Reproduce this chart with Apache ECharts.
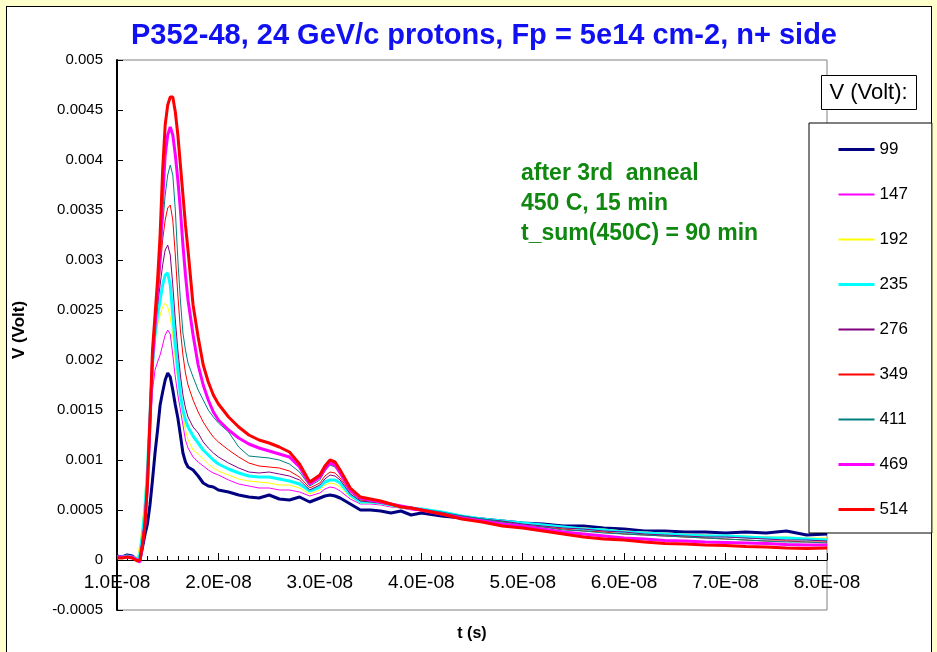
<!DOCTYPE html>
<html>
<head>
<meta charset="utf-8">
<script src="https://cdn.jsdelivr.net/npm/echarts@6/dist/echarts.min.js"></script>
<style>
  html, body { margin: 0; padding: 0; background: #FFFFCC; }
  #frame { position: absolute; left: 6px; top: 6px; width: 926px; height: 660px; background: #fff; border: 1px solid #000; box-sizing: border-box; }
  #chart { position: absolute; left: 0; top: 0; width: 937px; height: 652px; }
</style>
</head>
<body>
<div id="frame"></div>
<div id="chart"></div>
<script>
// time in ns (axis labels shown in seconds)
const t_ns = [10,10.5,11,11.5,12,12.25,12.5,12.75,13,13.25,13.5,13.75,14,14.25,14.5,14.75,15,15.25,15.5,15.75,16,16.25,16.5,16.75,17,17.5,18,18.5,19,19.5,20,21,22,23,24,25,26,27,28,29,30,30.5,31,31.5,32,33,34,35,36,37,38,39,40,42,44,46,48,50,52,54,56,58,60,62,64,66,68,70,72,74,76,78,80];

// signal in volts
const v99  = [0.4e-4,0.3e-4,0.5e-4,0.4e-4,0.0e-4,-0.1e-4,1.2e-4,2.5e-4,3.6e-4,5.5e-4,8.0e-4,10.7e-4,13.0e-4,15.5e-4,16.8e-4,18.0e-4,18.7e-4,18.3e-4,17.0e-4,15.5e-4,14.2e-4,12.5e-4,10.7e-4,9.8e-4,9.3e-4,9.0e-4,8.4e-4,7.7e-4,7.4e-4,7.3e-4,7.0e-4,6.8e-4,6.5e-4,6.3e-4,6.2e-4,6.5e-4,6.1e-4,6.0e-4,6.3e-4,5.8e-4,6.2e-4,6.4e-4,6.5e-4,6.4e-4,6.2e-4,5.6e-4,5.0e-4,5.0e-4,4.9e-4,4.7e-4,4.9e-4,4.5e-4,4.7e-4,4.4e-4,4.2e-4,4.1e-4,3.9e-4,3.7e-4,3.6e-4,3.4e-4,3.4e-4,3.2e-4,3.1e-4,2.9e-4,2.9e-4,2.8e-4,2.8e-4,2.7e-4,2.8e-4,2.7e-4,2.9e-4,2.5e-4,2.6e-4];
const v147 = [0.3e-4,0.3e-4,0.4e-4,0.3e-4,-0.1e-4,-0.3e-4,1.5e-4,4.0e-4,8.0e-4,13.0e-4,17.0e-4,19.0e-4,19.8e-4,20.5e-4,21.5e-4,22.5e-4,23.0e-4,22.6e-4,20.5e-4,18.3e-4,16.5e-4,15.0e-4,13.5e-4,12.0e-4,11.2e-4,10.3e-4,9.8e-4,9.4e-4,9.0e-4,8.7e-4,8.5e-4,8.0e-4,7.6e-4,7.4e-4,7.2e-4,7.2e-4,7.0e-4,7.0e-4,6.8e-4,6.4e-4,6.7e-4,7.1e-4,7.3e-4,7.2e-4,6.9e-4,6.1e-4,5.6e-4,5.6e-4,5.5e-4,5.3e-4,5.2e-4,5.0e-4,4.9e-4,4.6e-4,4.3e-4,4.1e-4,3.9e-4,3.7e-4,3.5e-4,3.3e-4,3.2e-4,3.0e-4,2.9e-4,2.8e-4,2.7e-4,2.6e-4,2.5e-4,2.4e-4,2.3e-4,2.3e-4,2.2e-4,2.1e-4,2.1e-4];
const v192 = [0.3e-4,0.3e-4,0.3e-4,0.3e-4,0.3e-4,1.5e-4,3.5e-4,6.5e-4,10.5e-4,15.0e-4,19.5e-4,22.0e-4,23.5e-4,24.5e-4,25.3e-4,25.7e-4,25.3e-4,24.3e-4,22.5e-4,20.0e-4,18.0e-4,16.3e-4,14.5e-4,13.0e-4,12.0e-4,11.0e-4,10.6e-4,10.1e-4,9.6e-4,9.2e-4,8.9e-4,8.5e-4,8.1e-4,7.9e-4,7.8e-4,7.7e-4,7.5e-4,7.5e-4,7.2e-4,6.6e-4,7.0e-4,7.5e-4,7.7e-4,7.6e-4,7.3e-4,6.3e-4,5.7e-4,5.7e-4,5.6e-4,5.4e-4,5.2e-4,5.1e-4,5.0e-4,4.7e-4,4.4e-4,4.1e-4,3.9e-4,3.7e-4,3.5e-4,3.3e-4,3.2e-4,3.1e-4,2.9e-4,2.8e-4,2.7e-4,2.6e-4,2.5e-4,2.4e-4,2.4e-4,2.3e-4,2.3e-4,2.2e-4,2.2e-4];
const v235 = [0.3e-4,0.3e-4,0.4e-4,0.3e-4,0.1e-4,0.5e-4,2.5e-4,5.0e-4,9.0e-4,14.5e-4,19.5e-4,22.5e-4,24.5e-4,26.0e-4,27.5e-4,28.5e-4,28.7e-4,27.5e-4,24.5e-4,21.5e-4,19.0e-4,16.5e-4,15.0e-4,14.0e-4,13.3e-4,12.4e-4,11.7e-4,11.0e-4,10.5e-4,10.0e-4,9.6e-4,9.1e-4,8.7e-4,8.4e-4,8.3e-4,8.3e-4,8.1e-4,7.9e-4,7.6e-4,6.9e-4,7.3e-4,7.8e-4,8.0e-4,8.0e-4,7.7e-4,6.5e-4,5.8e-4,5.8e-4,5.7e-4,5.5e-4,5.3e-4,5.2e-4,5.1e-4,4.8e-4,4.4e-4,4.1e-4,3.9e-4,3.7e-4,3.5e-4,3.3e-4,3.1e-4,3.0e-4,2.8e-4,2.7e-4,2.6e-4,2.5e-4,2.4e-4,2.4e-4,2.3e-4,2.2e-4,2.2e-4,2.1e-4,2.0e-4];
const v276 = [0.3e-4,0.3e-4,0.3e-4,0.3e-4,0.0e-4,0.0e-4,1.7e-4,4.0e-4,8.0e-4,14.0e-4,19.5e-4,23.0e-4,25.5e-4,27.5e-4,29.5e-4,31.0e-4,31.5e-4,30.5e-4,27.5e-4,24.0e-4,21.0e-4,18.5e-4,16.5e-4,15.2e-4,14.3e-4,13.3e-4,12.7e-4,11.8e-4,11.2e-4,10.7e-4,10.3e-4,9.7e-4,9.2e-4,8.8e-4,8.7e-4,8.8e-4,8.6e-4,8.4e-4,8.0e-4,7.0e-4,7.5e-4,8.1e-4,8.5e-4,8.4e-4,8.0e-4,6.6e-4,5.9e-4,5.8e-4,5.7e-4,5.5e-4,5.3e-4,5.2e-4,5.0e-4,4.7e-4,4.4e-4,4.1e-4,3.9e-4,3.6e-4,3.4e-4,3.2e-4,3.1e-4,2.9e-4,2.8e-4,2.6e-4,2.5e-4,2.4e-4,2.3e-4,2.3e-4,2.2e-4,2.1e-4,2.0e-4,2.0e-4,1.9e-4];
const v349 = [0.3e-4,0.3e-4,0.3e-4,0.3e-4,0.0e-4,0.0e-4,1.5e-4,3.5e-4,7.5e-4,13.5e-4,19.5e-4,23.0e-4,26.0e-4,29.0e-4,32.0e-4,34.0e-4,35.2e-4,35.5e-4,34.0e-4,30.5e-4,26.5e-4,23.0e-4,20.5e-4,18.7e-4,17.5e-4,16.0e-4,14.8e-4,13.8e-4,13.0e-4,12.3e-4,11.8e-4,11.0e-4,10.3e-4,9.7e-4,9.4e-4,9.3e-4,9.2e-4,8.9e-4,8.3e-4,7.2e-4,7.7e-4,8.4e-4,8.8e-4,8.7e-4,8.2e-4,6.8e-4,6.0e-4,5.9e-4,5.7e-4,5.5e-4,5.3e-4,5.2e-4,5.0e-4,4.7e-4,4.3e-4,4.0e-4,3.8e-4,3.5e-4,3.3e-4,3.1e-4,2.9e-4,2.8e-4,2.6e-4,2.5e-4,2.4e-4,2.3e-4,2.2e-4,2.1e-4,2.0e-4,1.9e-4,1.9e-4,1.8e-4,1.8e-4];
const v411 = [0.3e-4,0.3e-4,0.3e-4,0.3e-4,0.0e-4,0.0e-4,1.5e-4,3.5e-4,7.5e-4,13.5e-4,19.5e-4,23.0e-4,26.5e-4,29.5e-4,33.5e-4,36.5e-4,38.5e-4,39.5e-4,38.5e-4,35.0e-4,30.0e-4,26.0e-4,22.7e-4,21.0e-4,19.7e-4,18.3e-4,17.0e-4,16.0e-4,15.0e-4,14.3e-4,13.7e-4,12.8e-4,11.3e-4,10.4e-4,10.3e-4,10.2e-4,10.0e-4,9.6e-4,8.8e-4,7.4e-4,8.0e-4,8.9e-4,9.5e-4,9.3e-4,8.6e-4,7.0e-4,6.1e-4,6.0e-4,5.8e-4,5.6e-4,5.4e-4,5.3e-4,5.1e-4,4.8e-4,4.4e-4,4.1e-4,3.8e-4,3.5e-4,3.3e-4,3.0e-4,2.9e-4,2.7e-4,2.6e-4,2.5e-4,2.4e-4,2.3e-4,2.2e-4,2.1e-4,2.0e-4,1.9e-4,1.8e-4,1.8e-4,1.7e-4];
const v469 = [0.3e-4,0.3e-4,0.3e-4,0.3e-4,0.0e-4,-0.2e-4,1.5e-4,3.5e-4,7.5e-4,13.5e-4,20.0e-4,23.5e-4,27.0e-4,30.5e-4,36.0e-4,40.5e-4,42.5e-4,43.3e-4,42.5e-4,40.5e-4,38.0e-4,35.0e-4,31.5e-4,28.5e-4,26.0e-4,22.5e-4,19.5e-4,17.5e-4,16.0e-4,14.8e-4,14.0e-4,13.0e-4,12.2e-4,11.6e-4,11.2e-4,10.9e-4,10.6e-4,10.3e-4,9.3e-4,7.6e-4,8.3e-4,9.1e-4,9.7e-4,9.5e-4,8.7e-4,7.0e-4,6.2e-4,6.0e-4,5.8e-4,5.6e-4,5.4e-4,5.2e-4,5.0e-4,4.6e-4,4.2e-4,3.9e-4,3.6e-4,3.4e-4,3.1e-4,2.8e-4,2.6e-4,2.4e-4,2.2e-4,2.1e-4,1.95e-4,1.9e-4,1.8e-4,1.75e-4,1.7e-4,1.65e-4,1.55e-4,1.5e-4,1.5e-4];
const v514 = [0.2e-4,0.2e-4,0.3e-4,0.2e-4,-0.1e-4,0.0e-4,1.5e-4,3.5e-4,7.5e-4,14.0e-4,21.0e-4,24.5e-4,28.0e-4,32.5e-4,39.0e-4,43.5e-4,45.5e-4,46.3e-4,46.3e-4,44.8e-4,42.5e-4,39.5e-4,36.5e-4,33.5e-4,31.0e-4,25.5e-4,22.3e-4,19.5e-4,17.8e-4,16.5e-4,15.6e-4,14.3e-4,13.3e-4,12.5e-4,12.0e-4,11.7e-4,11.3e-4,10.8e-4,9.6e-4,7.8e-4,8.5e-4,9.4e-4,10.0e-4,9.8e-4,9.0e-4,7.2e-4,6.3e-4,6.1e-4,5.9e-4,5.6e-4,5.3e-4,5.2e-4,5.0e-4,4.6e-4,4.1e-4,3.8e-4,3.4e-4,3.2e-4,2.9e-4,2.6e-4,2.3e-4,2.1e-4,2.0e-4,1.8e-4,1.65e-4,1.6e-4,1.5e-4,1.45e-4,1.35e-4,1.3e-4,1.2e-4,1.15e-4,1.2e-4];

const seriesNames = ['99','147','192','235','276','349','411','469','514'];
const seriesValues = [v99, v147, v192, v235, v276, v349, v411, v469, v514];
const seriesColors = ['#000080','#FF00FF','#FFFF00','#00FFFF','#800080','#FF0000','#008080','#FF00FF','#FF0000'];
const seriesWidths = [3,1,1,3,1,1,1,3,3];

const xTickLabels = ['1.0E-08','2.0E-08','3.0E-08','4.0E-08','5.0E-08','6.0E-08','7.0E-08','8.0E-08'];

const FONT = "'Liberation Sans', Arial, sans-serif";

const chart = echarts.init(document.getElementById('chart'), null, { renderer: 'canvas' });

const series = seriesNames.map((name, i) => ({
  name: name,
  type: 'line',
  symbol: 'none',
  showSymbol: false,
  animation: false,
  color: seriesColors[i],
  itemStyle: { color: seriesColors[i], opacity: 0 },
  lineStyle: { color: seriesColors[i], width: seriesWidths[i], opacity: 1 },
  data: t_ns.map((t, k) => [t, seriesValues[i][k]]),
  z: 2 + i
}));

const legendData = seriesNames.map((name, i) => ({
  name: name,
  itemStyle: { opacity: 0 },
  lineStyle: { color: seriesColors[i], width: seriesWidths[i] > 1 ? 3 : 2, opacity: 1 }
}));

chart.setOption({
  backgroundColor: 'transparent',
  animation: false,
  textStyle: { fontFamily: FONT },
  grid: {
    left: 117, top: 60, width: 710, height: 550,
    show: true, backgroundColor: '#ffffff', borderColor: '#808080', borderWidth: 1
  },
  xAxis: {
    type: 'value', min: 10, max: 80, interval: 10,
    position: 'bottom', offset: -50,
    axisLine: { show: true, onZero: false, lineStyle: { color: '#000', width: 1 } },
    axisTick: { show: true, inside: true, length: 7, lineStyle: { color: '#000' } },
    minorTick: { show: true, splitNumber: 10, length: 4, lineStyle: { color: '#000' } },
    splitLine: { show: false },
    axisLabel: {
      margin: 13, color: '#000', fontSize: 19, fontFamily: FONT,
      formatter: v => xTickLabels[Math.round((v - 10) / 10)] || ''
    }
  },
  yAxis: {
    type: 'value', min: -0.0005, max: 0.005, interval: 0.0005,
    axisLine: { show: true, lineStyle: { color: '#000', width: 2 } },
    axisTick: { show: true, inside: true, length: 6, lineStyle: { color: '#000' } },
    splitLine: { show: false },
    axisLabel: {
      margin: 14, color: '#000', fontSize: 15, fontFamily: FONT,
      formatter: v => String(+v.toFixed(4))
    }
  },
  legend: {
    show: true, orient: 'vertical', left: 809, top: 123,
    data: legendData,
    itemWidth: 36, itemHeight: 14, itemGap: 28,
    padding: [18, 24, 15, 28],
    backgroundColor: '#ffffff', borderColor: '#000', borderWidth: 1,
    textStyle: { color: '#000', fontSize: 17, fontFamily: FONT },
    itemStyle: { opacity: 0 },
    selectedMode: false,
    z: 20
  },
  title: {
    text: 'P352-48, 24 GeV/c protons, Fp = 5e14 cm-2, n+ side',
    left: 479, top: 16, textAlign: 'center',
    textStyle: { color: '#1010F0', fontSize: 29, fontWeight: 'bold', fontFamily: FONT }
  },
  graphic: [
    {
      type: 'group', left: 821, top: 75, z: 30,
      children: [
        { type: 'rect', shape: { x: 0, y: 0, width: 95, height: 34 }, style: { fill: '#fff', stroke: '#000', lineWidth: 1 } },
        { type: 'text', x: 47, y: 17, style: { text: 'V (Volt):', fill: '#000', font: '22px ' + FONT, textAlign: 'center', textVerticalAlign: 'middle' } }
      ]
    },
    { type: 'text', left: 521, top: 162, z: 30, style: { text: 'after 3rd  anneal', fill: '#108810', font: 'bold 23px ' + FONT } },
    { type: 'text', left: 521, top: 192, z: 30, style: { text: '450 C, 15 min', fill: '#108810', font: 'bold 23px ' + FONT } },
    { type: 'text', left: 521, top: 222, z: 30, style: { text: 't_sum(450C) = 90 min', fill: '#108810', font: 'bold 23px ' + FONT } },
    { type: 'text', x: 19, y: 330, rotation: Math.PI / 2, z: 30, style: { text: 'V (Volt)', fill: '#000', font: 'bold 17px ' + FONT, textAlign: 'center', textVerticalAlign: 'middle' } },
    { type: 'text', x: 472, y: 634, z: 30, style: { text: 't (s)', fill: '#000', font: 'bold 16px ' + FONT, textAlign: 'center', textVerticalAlign: 'middle' } }
  ],
  series: series
});
</script>
</body>
</html>
